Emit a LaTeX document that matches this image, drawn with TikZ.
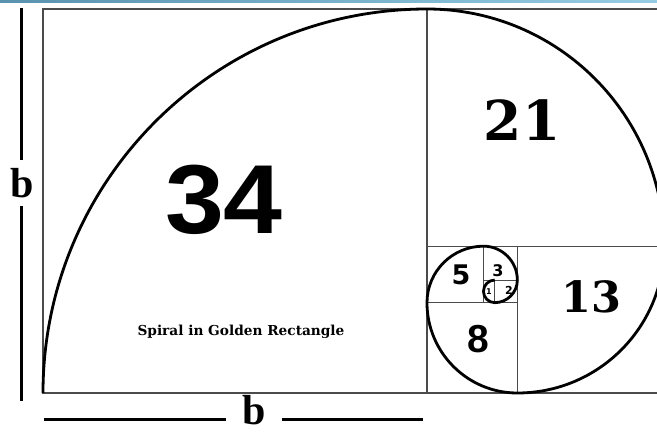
\documentclass[tikz,border=0pt]{standalone}
\usepackage{fontspec}
\newfontfamily\lsans{Liberation Sans}
\newfontfamily\lserif{Liberation Serif}
\newfontfamily\dserif{DejaVu Serif}
\newfontfamily\dsans{DejaVu Sans}
\definecolor{bandL}{RGB}{90,145,175}
\definecolor{bandR}{RGB}{150,205,228}
\definecolor{frame}{RGB}{75,75,75}
\begin{document}
\begin{tikzpicture}[x=1pt,y=-1pt,
  sq/.style={draw=frame,line width=1.3pt},
  sqthin/.style={draw=frame,line width=0.8pt},
  spiral/.style={draw=black,line width=2.8pt},
  bline/.style={draw=black,line width=3pt},
  num/.style={inner sep=0pt,text=black},
  blabel/.style={inner sep=8pt,font=\lserif\bfseries\fontsize{42}{42}\selectfont}]
\useasboundingbox (0,0) rectangle (657,436);
\clip (0,0) rectangle (657,436);
\fill[white] (0,0) rectangle (657,436);
\shade[left color=bandL,right color=bandR] (0,0) rectangle (657,3);
\begin{scope}[shift={(43,393)},x=11.294pt,y=11.294pt]
  \draw[sq] (0,0) rectangle (55,34);
  \draw[sq] (34,0) -- (34,34);
  \draw[sq] (34,13) -- (55,13);
  \draw[sq] (42,0) -- (42,13);
  \draw[sq] (34,8) -- (42,8);
  \draw[sq] (39,8) -- (39,13);
  \draw[sqthin] (39,10) -- (42,10);
  \draw[sqthin] (40,8) -- (40,10);
  \draw[spiral] (0,0) arc[start angle=180,end angle=90,radius=34]
    arc[start angle=90,end angle=0,radius=21]
    arc[start angle=0,end angle=-90,radius=13]
    arc[start angle=-90,end angle=-180,radius=8]
    arc[start angle=180,end angle=90,radius=5]
    arc[start angle=90,end angle=0,radius=3]
    arc[start angle=0,end angle=-90,radius=2]
    arc[start angle=-90,end angle=-180,radius=1]
    arc[start angle=180,end angle=90,radius=1];
\end{scope}
\node[num,font=\lsans\bfseries\fontsize{98}{98}\selectfont,xscale=1.08] (n34) at (224,200) {34};
\node[num,font=\dserif\bfseries\fontsize{55}{55}\selectfont] (n21) at (522,120) {21};
\node[num,font=\dserif\bfseries\fontsize{43}{43}\selectfont] (n13) at (591,297) {13};
\node[num,font=\lsans\bfseries\fontsize{39}{39}\selectfont] (n8) at (478,339) {8};
\node[num,font=\dsans\bfseries\fontsize{27}{27}\selectfont] (n5) at (461,275) {5};
\node[num,font=\dsans\bfseries\fontsize{16}{16}\selectfont] (n3) at (498,271) {3};
\node[num,font=\dsans\bfseries\fontsize{11}{11}\selectfont] (n2) at (509,290) {2};
\node[num,font=\dsans\bfseries\fontsize{8}{8}\selectfont] (n1) at (489,292) {1};
\node[num,anchor=base,font=\dserif\bfseries\fontsize{13.7}{14}\selectfont] (title) at (241,335) {Spiral in Golden Rectangle};
\node[blabel] (bl) at (22,183) {b};
\node[blabel,inner xsep=16pt,inner ysep=1pt] (bb) at (254,410) {b};
\coordinate (lt) at (21,8);
\coordinate (lb) at (21,401);
\coordinate (bL) at (44,419);
\coordinate (bR) at (423,419);
\draw[bline] (lt) -- (lt |- bl.north);
\draw[bline] (lt |- bl.south) -- (lb);
\draw[bline] (bL) -- (bL -| bb.west);
\draw[bline] (bb.east |- bR) -- (bR);
\end{tikzpicture}
\end{document}
